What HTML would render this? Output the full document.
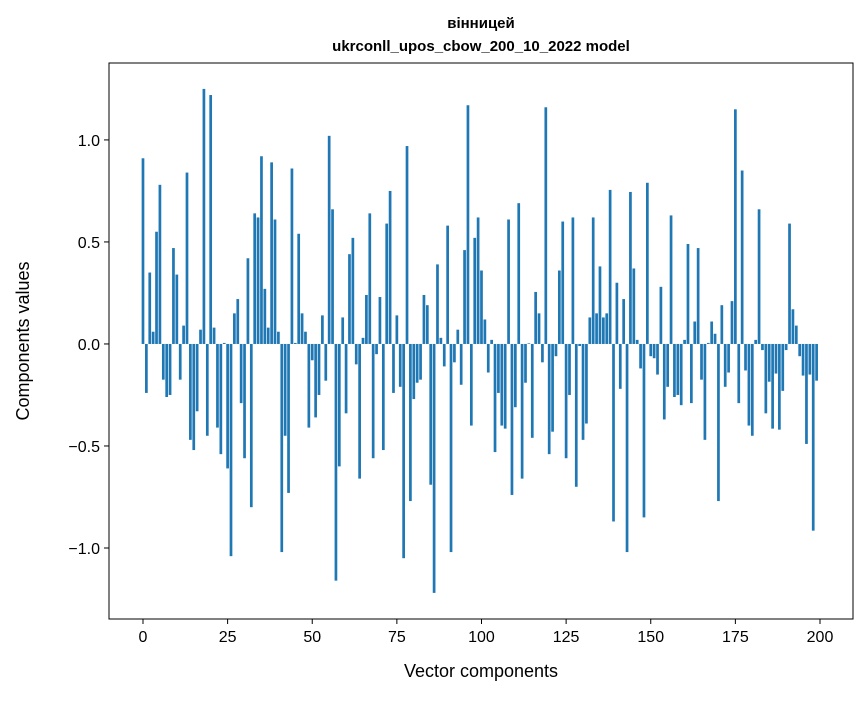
<!DOCTYPE html>
<html><head><meta charset="utf-8"><style>
body{margin:0;background:#fff;}
svg text{font-family:"Liberation Sans","DejaVu Sans",sans-serif;}
</style></head><body>
<svg id="chart" width="867" height="696" viewBox="0 0 867 696" xmlns="http://www.w3.org/2000/svg">
<rect width="867" height="696" fill="#fff"/>
<text x="481" y="28" text-anchor="middle" font-size="15" font-weight="bold">вінницей</text>
<text x="481" y="51" text-anchor="middle" font-size="15" font-weight="bold">ukrconll_upos_cbow_200_10_2022 model</text>
<g id="bars"></g>
<g id="xaxis"></g>
<g id="yaxis"></g>
<rect x="109" y="63" width="744" height="556" fill="none" stroke="#000" stroke-width="1"/>
<text x="481" y="677" text-anchor="middle" font-size="18">Vector components</text>
<text transform="translate(29,341) rotate(-90)" text-anchor="middle" font-size="18">Components values</text>
</svg>
<script>
const values = [0.91,-0.24,0.35,0.06,0.55,0.78,-0.175,-0.26,-0.25,0.47,
0.34,-0.175,0.09,0.84,-0.47,-0.52,-0.33,0.07,1.25,-0.45,
1.22,0.08,-0.41,-0.54,0.005,-0.61,-1.04,0.15,0.22,-0.29,
-0.56,0.42,-0.80,0.64,0.62,0.92,0.27,0.08,0.89,0.61,
0.06,-1.02,-0.45,-0.73,0.86,0.005,0.54,0.15,0.06,-0.41,
-0.08,-0.36,-0.25,0.14,-0.18,1.02,0.66,-1.16,-0.60,0.13,
-0.34,0.44,0.52,-0.10,-0.66,0.03,0.24,0.64,-0.56,-0.05,
0.23,-0.52,0.59,0.75,-0.24,0.14,-0.21,-1.05,0.97,-0.77,
-0.27,-0.19,-0.175,0.24,0.19,-0.69,-1.22,0.39,0.03,-0.11,
0.58,-1.02,-0.09,0.07,-0.20,0.46,1.17,-0.40,0.52,0.62,
0.36,0.12,-0.14,0.02,-0.53,-0.24,-0.40,-0.415,0.61,-0.74,
-0.31,0.69,-0.66,-0.19,0.003,-0.46,0.255,0.15,-0.09,1.16,
-0.54,-0.43,-0.06,0.36,0.60,-0.56,-0.25,0.62,-0.70,-0.01,
-0.47,-0.39,0.13,0.62,0.15,0.38,0.13,0.15,0.755,-0.87,
0.30,-0.22,0.22,-1.02,0.745,0.37,0.02,-0.12,-0.85,0.79,
-0.06,-0.07,-0.15,0.28,-0.37,-0.21,0.63,-0.26,-0.25,-0.30,
0.02,0.49,-0.29,0.11,0.47,-0.175,-0.47,0.005,0.11,0.05,
-0.77,0.19,-0.21,-0.14,0.21,1.15,-0.29,0.85,-0.13,-0.40,
-0.45,0.02,0.66,-0.03,-0.34,-0.185,-0.415,-0.145,-0.42,-0.23,
-0.03,0.59,0.17,0.09,-0.06,-0.155,-0.49,-0.15,-0.915,-0.18];
const xTicks = [0,25,50,75,100,125,150,175,200];
const yTicks = [-1.0,-0.5,0.0,0.5,1.0];
const yTickLabels = ["\u22121.0","\u22120.5","0.0","0.5","1.0"];

const NS = "http://www.w3.org/2000/svg";
const L=109,R=853,T=63,B=619;
const xMin=-10.04,xMax=209.75,yMin=-1.348,yMax=1.377;
function xs(v){return L+(v-xMin)/(xMax-xMin)*(R-L);}
function ys(v){return B-(v-yMin)/(yMax-yMin)*(B-T);}
const bars=document.getElementById('bars');
values.forEach((v,i)=>{
  const r=document.createElementNS(NS,'rect');
  const x0=xs(i-0.4),x1=xs(i+0.4);
  const y0=ys(Math.max(v,0)),y1=ys(Math.min(v,0));
  r.setAttribute('x',x0);r.setAttribute('width',x1-x0);
  r.setAttribute('y',y0);r.setAttribute('height',Math.max(y1-y0,0.3));
  r.setAttribute('fill','#1f77b4');
  
  
  bars.appendChild(r);
});
const xa=document.getElementById('xaxis');
xTicks.forEach(t=>{
  const l=document.createElementNS(NS,'line');
  l.setAttribute('x1',xs(t));l.setAttribute('x2',xs(t));l.setAttribute('y1',B);l.setAttribute('y2',B+5);l.setAttribute('stroke','#000');
  
  
  xa.appendChild(l);
  const tx=document.createElementNS(NS,'text');
  tx.setAttribute('x',xs(t));tx.setAttribute('y',B+23);tx.setAttribute('text-anchor','middle');tx.setAttribute('font-size','16');
  tx.textContent=t;
  
  
  xa.appendChild(tx);
});
const ya=document.getElementById('yaxis');
yTicks.forEach((t,k)=>{
  const l=document.createElementNS(NS,'line');
  l.setAttribute('x1',L-5);l.setAttribute('x2',L);l.setAttribute('y1',ys(t));l.setAttribute('y2',ys(t));l.setAttribute('stroke','#000');
  
  
  ya.appendChild(l);
  const tx=document.createElementNS(NS,'text');
  tx.setAttribute('x',L-9);tx.setAttribute('y',ys(t)+6);tx.setAttribute('text-anchor','end');tx.setAttribute('font-size','16');
  tx.textContent=yTickLabels[k];
  
  
  ya.appendChild(tx);
});
</script>
</body></html>
